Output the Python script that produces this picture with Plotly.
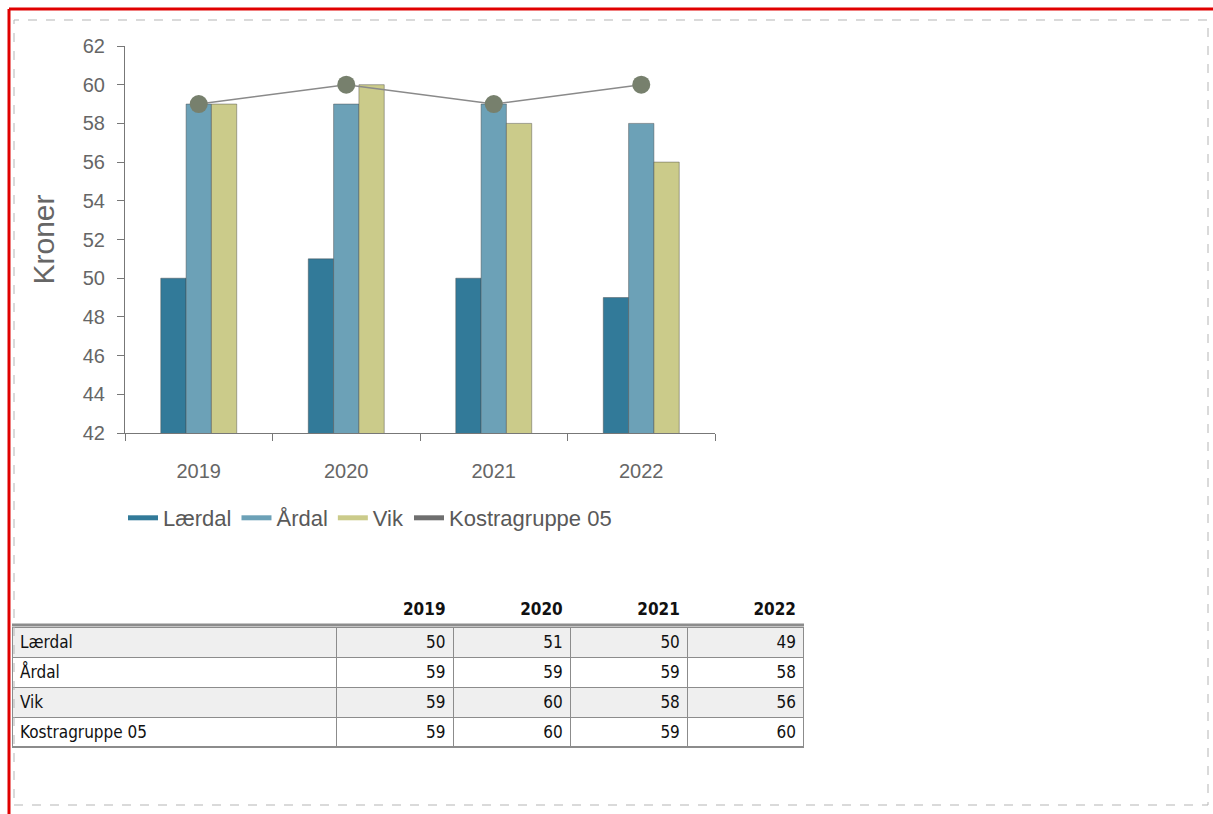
import plotly.graph_objects as go

years = ["2019", "2020", "2021", "2022"]
laerdal = [50, 51, 50, 49]
aardal = [59, 59, 59, 58]
vik = [59, 60, 58, 56]
kostra = [59, 60, 59, 60]
series_names = ["Lærdal", "Årdal", "Vik", "Kostragruppe 05"]
y_ticks = list(range(42, 63, 2))

colors = ["#327a99", "#6ca1b7", "#cbcb8a", "#77806d"]
W, H = 1213, 814


def px(x):
    return x / W


def py(y):
    return 1 - y / H


fig = go.Figure()
bar_line = dict(color="rgba(70,70,70,0.55)", width=0.8)
for name, vals, col in zip(series_names[:3], [laerdal, aardal, vik], colors[:3]):
    fig.add_trace(go.Bar(x=years, y=vals, name=name, marker=dict(color=col, line=bar_line),
                         showlegend=False, legendgroup=name))

fig.add_trace(go.Scatter(x=years, y=kostra, name=series_names[3], mode="lines+markers",
                         line=dict(color="#8a8a8a", width=1.5),
                         marker=dict(color=colors[3], size=18),
                         showlegend=False, legendgroup=series_names[3]))

# legend entries drawn as short lines, like the original
for name, col in zip(series_names, colors):
    fig.add_trace(go.Scatter(x=[None], y=[None], mode="lines", name=name,
                             line=dict(color=col if name != series_names[3] else "#6f6f6f", width=5),
                             legendgroup=name, showlegend=True))

# data table
cell_font = dict(family="Liberation Sans Narrow, DejaVu Sans Condensed, Arial Narrow, sans-serif",
                 size=17, color="#111111")
fig.add_trace(go.Table(
    domain=dict(x=[px(12), px(804)], y=[py(750), py(591)]),
    columnwidth=[324, 117, 117, 117, 116],
    header=dict(values=[""] + ["<b>%s</b>" % y for y in years],
                align=["left", "right", "right", "right", "right"],
                font=cell_font, height=29,
                line=dict(color="white", width=0), fill=dict(color="white")),
    cells=dict(values=[series_names,
                       [laerdal[0], aardal[0], vik[0], kostra[0]],
                       [laerdal[1], aardal[1], vik[1], kostra[1]],
                       [laerdal[2], aardal[2], vik[2], kostra[2]],
                       [laerdal[3], aardal[3], vik[3], kostra[3]]],
               align=["left", "right", "right", "right", "right"],
               font=cell_font, height=30,
               line=dict(color="#8c8c8c", width=1),
               fill=dict(color=[["#efefef", "white", "#efefef", "white"]] * 5)),
))

axis_font = dict(family="Liberation Sans, Arial, sans-serif", size=20, color="#666666")
fig.update_layout(
    width=W, height=H,
    margin=dict(l=0, r=0, t=0, b=0, autoexpand=False),
    paper_bgcolor="white", plot_bgcolor="white",
    barmode="group", bargap=0.485, bargroupgap=0,
    font=dict(family="Liberation Sans, Arial, sans-serif", color="#666666"),
    xaxis=dict(domain=[px(125), px(715)], type="category", showgrid=False, automargin=False,
               showline=True, linecolor="#777777", linewidth=1,
               ticks="outside", ticklen=7, tickcolor="#777777", tickson="boundaries",
               tickfont=axis_font, ticklabelstandoff=20),
    yaxis=dict(domain=[py(433), py(46)], range=[42, 62], tickvals=y_ticks, showgrid=False,
               automargin=False,
               showline=True, linecolor="#777777", linewidth=1,
               ticks="outside", ticklen=7, tickcolor="#777777",
               tickfont=axis_font, ticklabelstandoff=8,
               title=dict(text="Kroner", font=dict(size=30, color="#666666"), standoff=19)),
    legend=dict(orientation="h", x=px(370), xanchor="center", y=py(518), yanchor="middle",
                font=dict(size=22, color="#595959"), itemwidth=30, tracegroupgap=0,
                bgcolor="rgba(0,0,0,0)"),
    shapes=[
        # page frame
        dict(type="rect", xref="paper", yref="paper", x0=px(14), x1=px(1208), y0=py(805), y1=py(20),
             line=dict(color="#b5b5b5", width=1, dash="dash")),
        dict(type="line", xref="paper", yref="paper", x0=px(9), x1=1, y0=py(9), y1=py(9),
             line=dict(color="#e00000", width=3)),
        dict(type="line", xref="paper", yref="paper", x0=px(9), x1=px(9), y0=0, y1=py(9),
             line=dict(color="#e00000", width=3)),
        # table rules
        dict(type="line", xref="paper", yref="paper", x0=px(12), x1=px(804), y0=py(625), y1=py(625),
             line=dict(color="#8c8c8c", width=3)),
        dict(type="line", xref="paper", yref="paper", x0=px(12), x1=px(804), y0=py(747), y1=py(747),
             line=dict(color="#8c8c8c", width=2)),
    ],
)

fig.write_html("out.html")
